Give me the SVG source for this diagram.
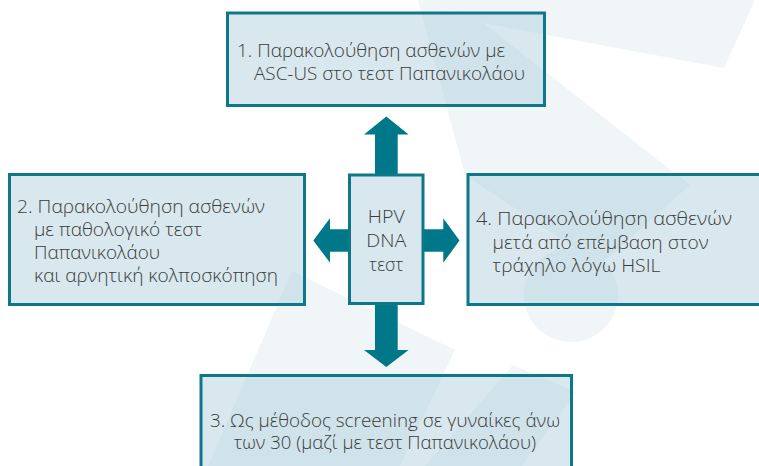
<svg xmlns="http://www.w3.org/2000/svg" width="759" height="466" viewBox="0 0 759 466">
  <style>
    .wm { fill: #f0f6f8; }
    .box { fill: #a9cdd9; fill-opacity: 0.45; stroke: #0f7888; stroke-width: 3; }
    .arrow { fill: #00788a; }
    .t { font-family: "Open Sans", "Noto Sans", "DejaVu Sans", sans-serif; font-weight: 300; font-size: 18.5px; fill: #3b3b3b; }
  </style>
  <rect width="759" height="466" fill="#ffffff"/>
  <g id="watermark">
    <polygon class="wm" points="418,0 755,0 724,68 483,23"/>
    <polygon class="wm" points="418,0 483,23 690,185 600,265 465,175"/>
    <circle class="wm" cx="571" cy="295" r="47"/>
    <polygon class="wm" points="292,271 455,350 400,466 208,466"/>
    <polygon class="wm" points="513,365 576,392 522,466 425,466"/>
  </g>
  <g id="connectors">
    <polygon class="arrow" points="375,176 375,134.5 364,134.5 386.3,116.5 408.6,134.5 397.7,134.5 397.7,176"/>
    <polygon class="arrow" points="375,303 375,350 364,350 386.3,367 408.6,350 397.7,350 397.7,303"/>
    <polygon class="arrow" points="351,229.3 330,229.3 330,218.3 313.3,240.5 330,262.7 330,251.7 351,251.7"/>
    <polygon class="arrow" points="422,229.3 443.3,229.3 443.3,218.3 459.5,240.5 443.3,262.7 443.3,251.7 422,251.7"/>
  </g>
  <g id="node-hpv">
    <rect class="box" x="349.5" y="175" width="73.5" height="128.5"/>
    <text class="t" x="386.3" y="223" text-anchor="middle" textLength="37" lengthAdjust="spacingAndGlyphs">HPV</text>
    <text class="t" x="386.3" y="247" text-anchor="middle" textLength="40" lengthAdjust="spacingAndGlyphs">DNA</text>
    <text class="t" x="386.3" y="271" text-anchor="middle" textLength="34" lengthAdjust="spacingAndGlyphs">τεστ</text>
  </g>
  <g id="node-1">
    <rect class="box" x="227.5" y="13" width="317" height="92.5"/>
    <text class="t" x="237" y="57" textLength="268" lengthAdjust="spacingAndGlyphs">1. Παρακολούθηση ασθενών με</text>
    <text class="t" x="254" y="80" textLength="271" lengthAdjust="spacingAndGlyphs">ASC-US στο τεστ Παπανικολάου</text>
  </g>
  <g id="node-2">
    <rect class="box" x="9.5" y="174.5" width="295" height="130"/>
    <text class="t" x="17" y="213.3" textLength="248" lengthAdjust="spacingAndGlyphs">2. Παρακολούθηση ασθενών</text>
    <text class="t" x="34" y="236" textLength="168" lengthAdjust="spacingAndGlyphs">με παθολογικό τεστ</text>
    <text class="t" x="34" y="259" textLength="126" lengthAdjust="spacingAndGlyphs">Παπανικολάου</text>
    <text class="t" x="34" y="282" textLength="244" lengthAdjust="spacingAndGlyphs">και αρνητική κολποσκόπηση</text>
  </g>
  <g id="node-4">
    <rect class="box" x="468" y="174.5" width="300" height="130"/>
    <text class="t" x="476" y="225" textLength="256" lengthAdjust="spacingAndGlyphs">4. Παρακολούθηση ασθενών</text>
    <text class="t" x="492.5" y="248.5" textLength="216" lengthAdjust="spacingAndGlyphs">μετά από επέμβαση στον</text>
    <text class="t" x="492.5" y="272" textLength="168" lengthAdjust="spacingAndGlyphs">τράχηλο λόγω HSIL</text>
  </g>
  <g id="node-3">
    <rect class="box" x="201" y="375.5" width="370.5" height="100"/>
    <text class="t" x="210" y="426.7" textLength="350" lengthAdjust="spacingAndGlyphs">3. Ως μέθοδος screening σε γυναίκες άνω</text>
    <text class="t" x="234" y="449.3" textLength="302" lengthAdjust="spacingAndGlyphs">των 30 (μαζί με τεστ Παπανικολάου)</text>
  </g>
</svg>
